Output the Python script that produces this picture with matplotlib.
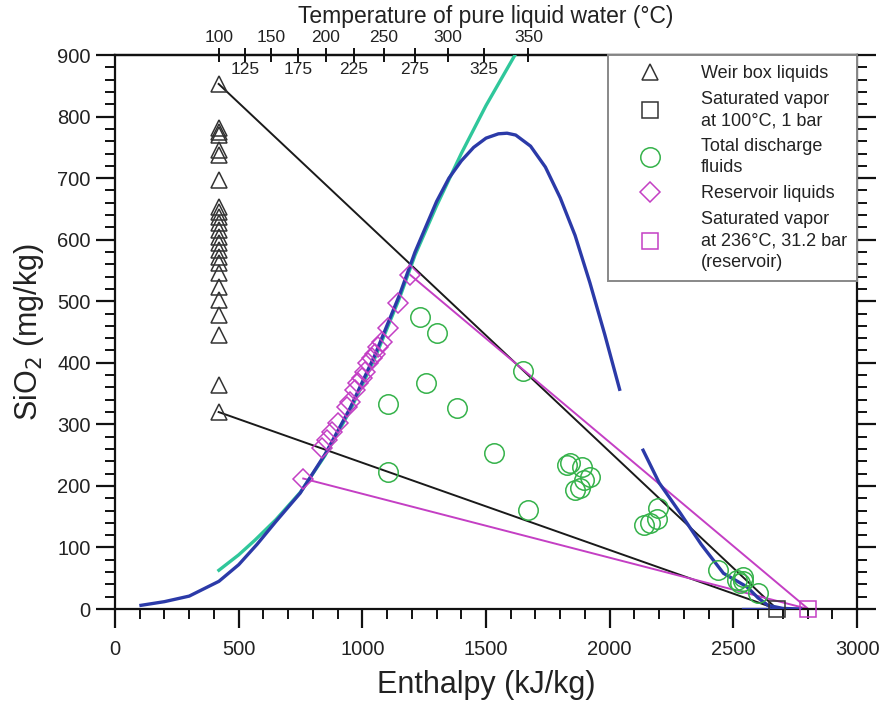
import matplotlib
matplotlib.use('Agg')
import matplotlib.pyplot as plt
from matplotlib.lines import Line2D
from matplotlib.ticker import MultipleLocator
import numpy as np

plt.rcParams['font.family'] = ['Liberation Sans', 'DejaVu Sans']

# ---------------- data ----------------
# Weir box liquids (all at 100 C liquid enthalpy)
weir_enthalpy = 419
weir_sio2 = [853, 781, 775, 770, 746, 738, 697, 653, 645, 637, 627, 616, 605,
             594, 583, 572, 562, 546, 523, 502, 478, 445, 364, 320]

# Saturated vapor at 100 C, 1 bar
vap100_enthalpy = [2676]
vap100_sio2 = [0]

# Total discharge fluids
td_enthalpy = [1104, 1104, 1233, 1303, 1258, 1384, 1651, 1534, 1671, 1826, 1840,
               1887, 1921, 1898, 1860, 1880, 2197, 2190, 2137, 2163, 2438, 2515,
               2540, 2527, 2540, 2600]
td_sio2 = [333, 222, 475, 449, 368, 327, 387, 253, 161, 234, 237,
           231, 215, 210, 193, 196, 164, 147, 136, 140, 63, 47,
           52, 42, 46, 26]

# Reservoir liquids
res_enthalpy = [1193, 1146, 1105, 1078, 1065, 1051, 1038, 1024, 1011, 997, 984,
                970, 950, 937, 903, 876, 856, 836, 761]
res_sio2 = [543, 497, 456, 434, 426, 415, 407, 399, 385, 375, 367,
            356, 337, 329, 302, 288, 275, 261, 212]

# Saturated vapor at 236 C, 31.2 bar (reservoir)
vap236_enthalpy = [2803]
vap236_sio2 = [0]

# Teal curve
teal_enthalpy = [420, 500, 566, 650, 750, 850, 950, 1050, 1150, 1213, 1300,
                 1400, 1500, 1617, 1640]
teal_sio2 = [63, 88, 112, 145, 190, 250, 322, 407, 505, 575, 655,
             740, 818, 900, 918]

# Blue curve, liquid branch
blue1_enthalpy = [105, 200, 300, 420, 500, 574, 650, 748, 850, 950, 1050, 1150,
                  1213, 1300, 1350, 1400, 1450, 1500, 1550, 1585, 1620, 1680,
                  1740, 1800, 1860, 1920, 1980, 2040]
blue1_sio2 = [6, 12, 21, 45, 72, 105, 142, 188, 252, 326, 412, 510,
              580, 662, 700, 728, 750, 765, 772, 773, 770, 752,
              718, 668, 607, 530, 446, 357]

# Blue curve, vapor branch
blue2_enthalpy = [2135, 2200, 2285, 2370, 2460, 2555, 2600, 2640, 2700, 2770]
blue2_sio2 = [258, 205, 156, 105, 58, 36, 18, 6, 1, 0]
blue3_enthalpy = [2540, 2770]
blue3_sio2 = [0, 0]

# Mixing lines
black_hi_enthalpy = [419, 2676]
black_hi_sio2 = [853, 0]
black_lo_enthalpy = [419, 2676]
black_lo_sio2 = [320, 0]
mag_hi_enthalpy = [1193, 2803]
mag_hi_sio2 = [543, 0]
mag_lo_enthalpy = [761, 2803]
mag_lo_sio2 = [212, 0]

# Top axis: temperature of pure liquid water and its enthalpy
temp_c = [100, 125, 150, 175, 200, 225, 250, 275, 300, 325, 350]
temp_enthalpy = [419.1, 525.0, 632.2, 741.2, 852.3, 966.7, 1085.7, 1210.9,
                 1344.8, 1493.0, 1671.2]

legend_labels = ["Weir box liquids",
                 "Saturated vapor\nat 100°C, 1 bar",
                 "Total discharge\nfluids",
                 "Reservoir liquids",
                 "Saturated vapor\nat 236°C, 31.2 bar\n(reservoir)"]

# ---------------- styles ----------------
c_black = '#1a1a1a'
c_tri = '#333333'
c_green = '#35b24a'
c_teal = '#2fc79b'
c_blue = '#2b3aa8'
c_mag = '#c43fc4'

fig = plt.figure(figsize=(8.82, 7.01), dpi=100)
ax = fig.add_axes([0.1304, 0.1312, 0.8413, 0.7903])

ax.plot(black_hi_enthalpy, black_hi_sio2, color=c_black, lw=1.4, zorder=2)
ax.plot(black_lo_enthalpy, black_lo_sio2, color=c_black, lw=1.4, zorder=2)
ax.plot(mag_hi_enthalpy, mag_hi_sio2, color=c_mag, lw=1.4, zorder=2)
ax.plot(mag_lo_enthalpy, mag_lo_sio2, color=c_mag, lw=1.4, zorder=2)

ax.plot(teal_enthalpy, teal_sio2, color=c_teal, lw=2.4, zorder=3)
ax.plot(blue1_enthalpy, blue1_sio2, color=c_blue, lw=2.4, zorder=3)
ax.plot(blue2_enthalpy, blue2_sio2, color=c_blue, lw=2.4, zorder=3)
ax.plot(blue3_enthalpy, blue3_sio2, color=c_blue, lw=2.4, zorder=3)

ax.plot(np.full(len(weir_sio2), weir_enthalpy), weir_sio2, ls='none', marker='^',
        ms=11, mfc='none', mec=c_tri, mew=1.1, zorder=4)
ax.plot(vap100_enthalpy, vap100_sio2, ls='none', marker='s', ms=11, mfc='none',
        mec=c_tri, mew=1.1, zorder=4, clip_on=False)
ax.plot(td_enthalpy, td_sio2, ls='none', marker='o', ms=14, mfc='none',
        mec=c_green, mew=1.1, zorder=4)
ax.plot(res_enthalpy, res_sio2, ls='none', marker='D', ms=10, mfc='none',
        mec=c_mag, mew=1.1, zorder=4)
ax.plot(vap236_enthalpy, vap236_sio2, ls='none', marker='s', ms=11, mfc='none',
        mec=c_mag, mew=1.1, zorder=4, clip_on=False)

ax.set_xlim(0, 3000)
ax.set_ylim(0, 900)

for s in ax.spines.values():
    s.set_linewidth(1.6)
    s.set_color('#111111')

ax.xaxis.set_major_locator(MultipleLocator(500))
ax.xaxis.set_minor_locator(MultipleLocator(100))
ax.yaxis.set_major_locator(MultipleLocator(100))
ax.yaxis.set_minor_locator(MultipleLocator(20))
ax.tick_params(which='major', direction='out', length=14, width=1.6,
               labelsize=14.5, colors='#111111', labelcolor='#222222',
               right=True, top=False, labelright=False)
ax.tick_params(which='minor', direction='out', length=7, width=1.4,
               colors='#111111', right=True, top=False)
ax.tick_params(axis='x', which='major', pad=8)

ax.set_xlabel("Enthalpy (kJ/kg)", fontsize=22, color='#222222', labelpad=8)
ax.set_ylabel("SiO$_2$ (mg/kg)", fontsize=22, color='#222222', labelpad=8)

# top temperature axis
top = ax.secondary_xaxis('top')
top.set_xticks(temp_enthalpy)
top.set_xticklabels([str(t) if i % 2 == 0 else '' for i, t in enumerate(temp_c)])
top.tick_params(direction='inout', length=10, width=1.4, labelsize=12.5,
                colors='#111111', labelcolor='#222222', pad=2)
top.spines['top'].set_linewidth(1.6)
top.set_xlabel("Temperature of pure liquid water (°C)", fontsize=16.5,
               color='#222222', labelpad=5)
for i, (t, h) in enumerate(zip(temp_c, temp_enthalpy)):
    if i % 2 == 1:
        ax.text(h, 0.987, str(t), transform=ax.get_xaxis_transform(),
                ha='center', va='top', fontsize=12.5, color='#222222')

handles = [
    Line2D([], [], ls='none', marker='^', ms=11, mfc='none', mec=c_tri, mew=1.1),
    Line2D([], [], ls='none', marker='s', ms=11, mfc='none', mec=c_tri, mew=1.1),
    Line2D([], [], ls='none', marker='o', ms=14, mfc='none', mec=c_green, mew=1.1),
    Line2D([], [], ls='none', marker='D', ms=10, mfc='none', mec=c_mag, mew=1.1),
    Line2D([], [], ls='none', marker='s', ms=11, mfc='none', mec=c_mag, mew=1.1),
]
leg = ax.legend(handles, legend_labels, loc='upper right', bbox_to_anchor=(1, 1),
                borderaxespad=0, fancybox=False, framealpha=1, fontsize=13,
                handlelength=3.6, handletextpad=1.0, labelspacing=0.5,
                borderpad=0.55, edgecolor='#888888')
leg.get_frame().set_linewidth(1.4)
for t in leg.get_texts():
    t.set_color('#222222')
    t.set_linespacing(1.32)

fig.savefig('out.png', dpi=100)
